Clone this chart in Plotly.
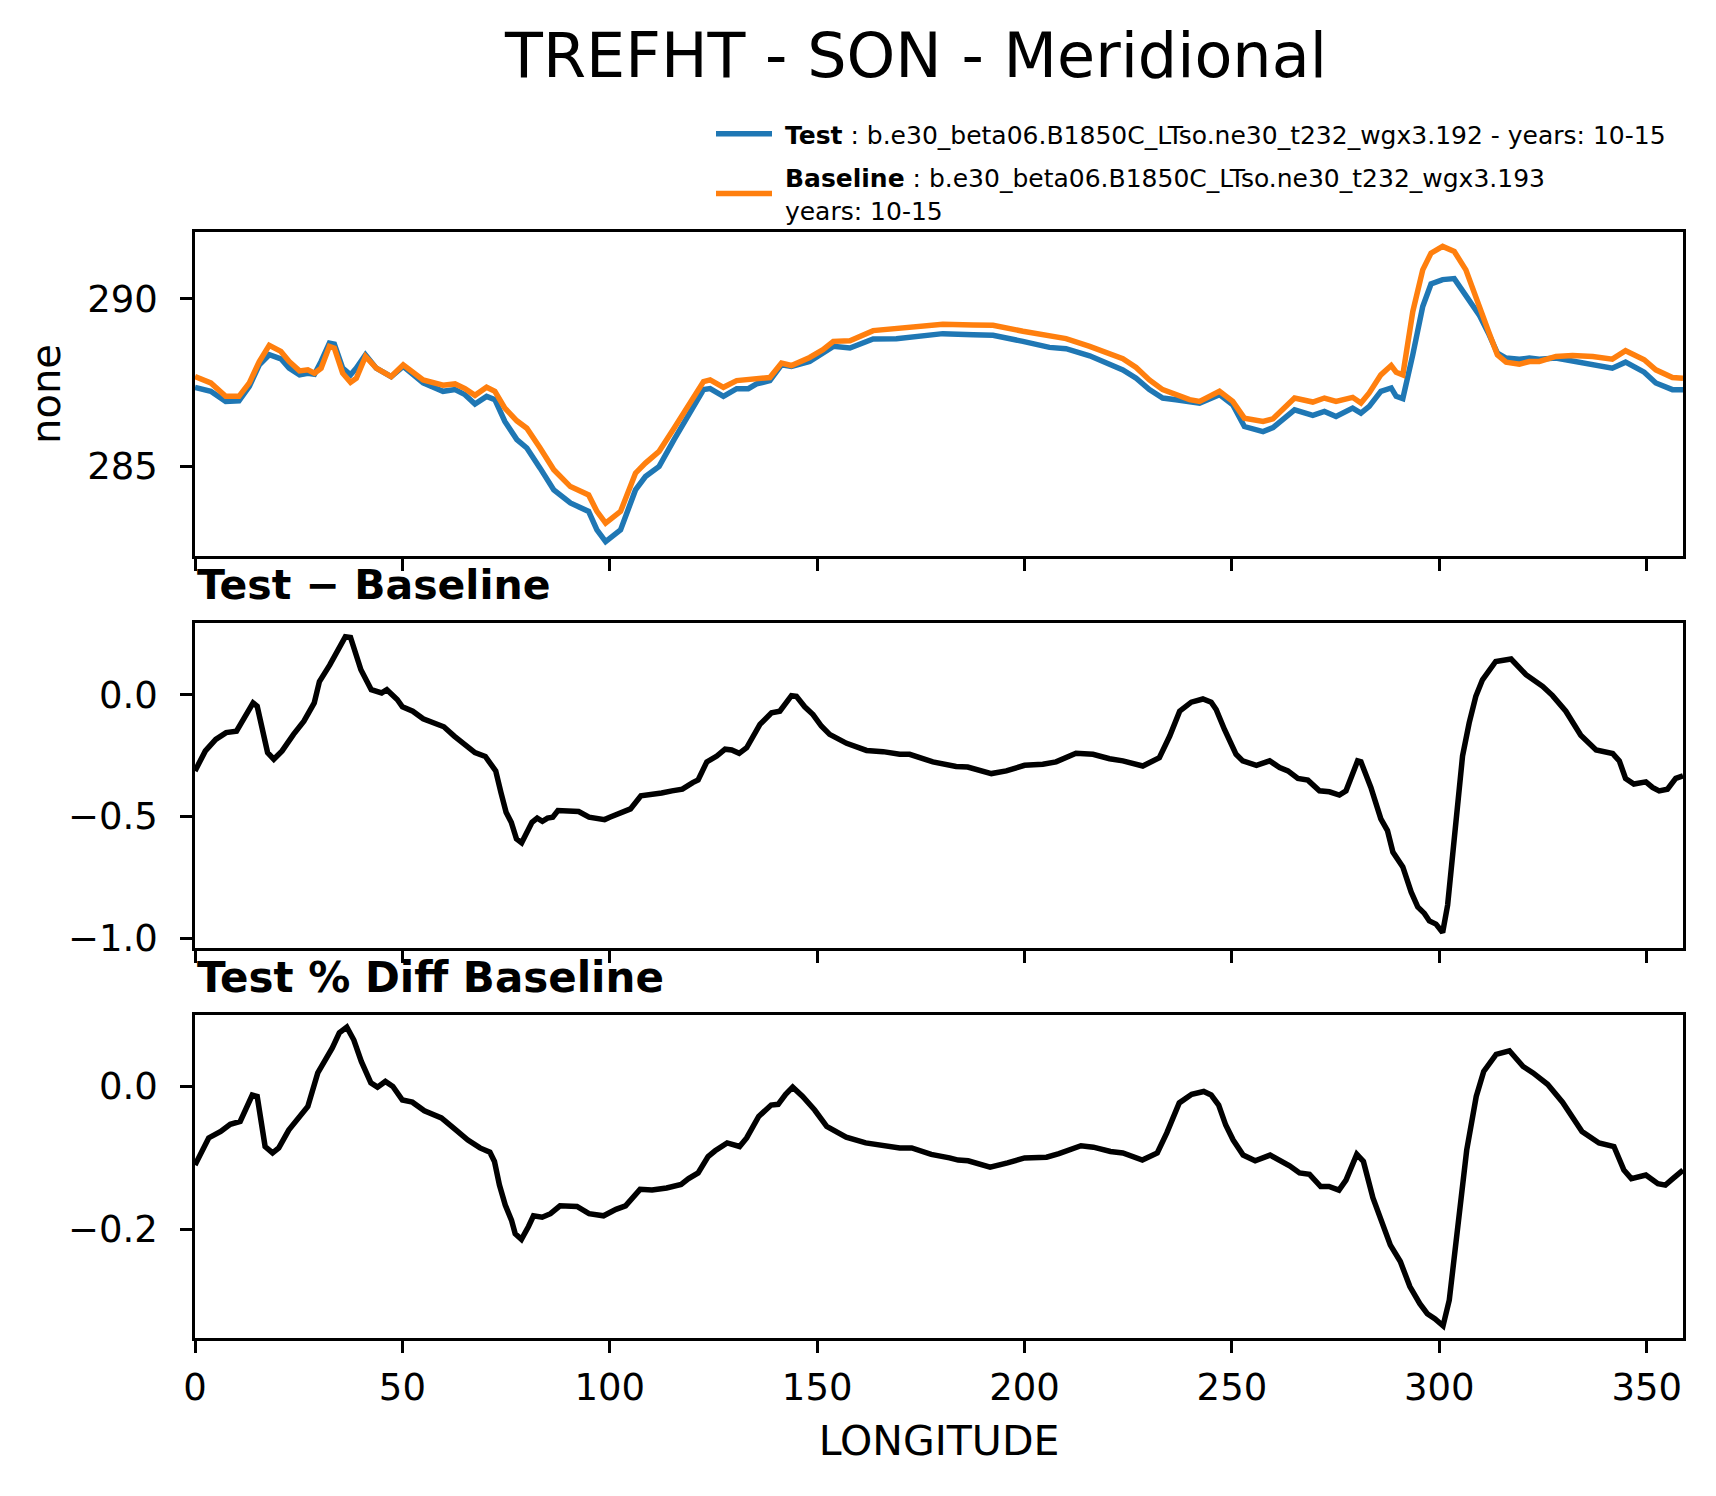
import plotly.graph_objects as go

# ---- data ----
lon_top = [0, 3.8, 7.4, 10.6, 13.1, 15.5, 17.9, 20.7, 22.7, 25.2, 27.2, 28.8, 30.4, 32.4, 33.6,
           35.6, 37.5, 38.9, 41.1, 43.7, 47.3, 50.2, 55.0, 59.8, 62.7, 65.1, 67.5, 70.3, 72.3,
           74.7, 77.6, 80.0, 83.2, 86.5, 90.5, 94.9, 96.9, 99.0, 102.6, 106.2, 108.6, 111.9,
           115.5, 119.5, 122.6, 124.2, 127.4, 130.6, 133.4, 135.4, 138.6, 141.4, 143.8, 148.2,
           151.4, 153.9, 157.9, 163.5, 169.1, 175.5, 180.3, 187.6, 192.4, 199.6, 206.0, 210.0,
           215.7, 223.7, 226.9, 230.1, 233.3, 236.5, 239.8, 242.2, 247.0, 250.2, 253.0, 257.5,
           259.9, 265.1, 269.5, 272.3, 275.1, 279.1, 281.1, 283.1, 285.9, 288.4, 289.6, 291.2,
           293.6, 296.0, 298.0, 300.8, 303.6, 306.4, 309.6, 312.0, 314.0, 316.1, 319.3, 321.7,
           324.1, 328.1, 332.1, 337.0, 341.7, 344.9, 349.4, 352.2, 356.2, 358.75]
test_vals = [287.36, 287.24, 286.94, 286.96, 287.39, 288.03, 288.33, 288.21, 287.93, 287.73,
             287.78, 287.75, 288.13, 288.68, 288.65, 287.93, 287.73, 287.93, 288.33, 287.93,
             287.68, 287.98, 287.49, 287.24, 287.29, 287.14, 286.86, 287.09, 286.99, 286.34,
             285.80, 285.55, 284.95, 284.30, 283.91, 283.66, 283.11, 282.76, 283.11, 284.30,
             284.70, 285.00, 285.80, 286.64, 287.29, 287.32, 287.09, 287.32, 287.32, 287.46,
             287.56, 288.03, 287.98, 288.13, 288.38, 288.58, 288.53, 288.80, 288.81, 288.90,
             288.96, 288.93, 288.91, 288.73, 288.55, 288.51, 288.30, 287.88, 287.63, 287.29,
             287.04, 286.99, 286.94, 286.89, 287.14, 286.84, 286.19, 286.04, 286.16, 286.69,
             286.52, 286.64, 286.49, 286.74, 286.59, 286.79, 287.24, 287.34, 287.09, 287.02,
             288.33, 289.77, 290.44, 290.57, 290.60, 290.12, 289.52, 288.93, 288.38, 288.23,
             288.20, 288.23, 288.20, 288.23, 288.15, 288.03, 287.93, 288.11, 287.81, 287.49,
             287.29, 287.29]
base_vals = [287.68, 287.49, 287.09, 287.09, 287.49, 288.13, 288.61, 288.43, 288.13, 287.85,
             287.88, 287.78, 287.93, 288.58, 288.53, 287.78, 287.51, 287.63, 288.28, 287.93,
             287.68, 288.03, 287.58, 287.42, 287.46, 287.32, 287.12, 287.36, 287.24, 286.74,
             286.36, 286.14, 285.55, 284.90, 284.40, 284.15, 283.66, 283.31, 283.66, 284.80,
             285.10, 285.45, 286.14, 286.94, 287.53, 287.58, 287.36, 287.56, 287.58, 287.63,
             287.65, 288.08, 288.01, 288.25, 288.48, 288.73, 288.75, 289.05, 289.10, 289.17,
             289.24, 289.22, 289.21, 289.03, 288.87, 288.81, 288.58, 288.21, 287.95, 287.58,
             287.29, 287.14, 286.99, 286.94, 287.24, 286.94, 286.44, 286.34, 286.42, 287.04,
             286.92, 287.04, 286.94, 287.06, 286.89, 287.19, 287.73, 288.01, 287.81, 287.73,
             289.62, 290.86, 291.36, 291.56, 291.41, 290.86, 289.72, 288.98, 288.33, 288.11,
             288.05, 288.13, 288.13, 288.28, 288.31, 288.28, 288.20, 288.45, 288.18, 287.88,
             287.65, 287.63]

lon_diff = [0, 2.5, 5, 7.5, 10, 12.5, 14, 15, 17.5, 19, 21, 23.75, 26.25, 28.75, 30, 32.5, 35,
            36.25, 37.5, 40, 42.5, 45, 46.25, 48.75, 50, 52.5, 55, 57.5, 60, 62.5, 65, 67.5, 70,
            72.5, 73.75, 75, 76.25, 77.5, 78.75, 80, 81.25, 82.5, 83.75, 85, 86.25, 87.5, 90,
            92.5, 95, 97.5, 98.75, 100, 102.5, 105, 107.5, 110, 112.5, 115, 117.5, 120, 121.3,
            123.4, 125.8, 127.8, 129.4, 131.2, 133.0, 136.2, 139.0, 141.0, 143.8, 145.0, 147.0,
            149.0, 151.0, 153.0, 157.1, 161.9, 165.9, 169.9, 172.3, 177.9, 183.5, 186.3, 192.0,
            195.6, 200, 204.4, 207.6, 212.4, 216.5, 220.5, 223.7, 228.5, 232.5, 235.0, 237.4,
            240.2, 243.0, 245.0, 246.2, 248.2, 251.0, 252.6, 255.9, 259.1, 261.5, 263.5, 265.9,
            268.3, 271.1, 273.5, 275.9, 277.5, 279.1, 280.3, 281.1, 283.5, 285.9, 287.5, 288.8,
            291.2, 293.2, 294.8, 296.4, 297.6, 299.2, 300.8, 302.0, 303.2, 304.4, 305.6, 307.2,
            308.8, 310.4, 313.6, 317.3, 320.9, 324.9, 327.3, 330.5, 334.1, 337.8, 341.8, 343.4,
            344.9, 346.9, 349.8, 351.4, 353.0, 355.0, 357.0, 358.75]
diff_vals = [-0.313, -0.231, -0.184, -0.156, -0.150, -0.075, -0.034, -0.048, -0.238, -0.265,
             -0.231, -0.163, -0.109, -0.034, 0.054, 0.122, 0.204, 0.238, 0.235, 0.102, 0.020,
             0.007, 0.020, -0.020, -0.050, -0.068, -0.099, -0.113, -0.132, -0.170, -0.204,
             -0.238, -0.254, -0.313, -0.401, -0.483, -0.524, -0.592, -0.608, -0.571, -0.524,
             -0.507, -0.520, -0.507, -0.503, -0.476, -0.476, -0.480, -0.503, -0.510, -0.513,
             -0.503, -0.486, -0.469, -0.415, -0.411, -0.404, -0.395, -0.388, -0.361, -0.350,
             -0.276, -0.252, -0.224, -0.227, -0.241, -0.218, -0.122, -0.075, -0.068, -0.004,
             -0.007, -0.050, -0.082, -0.129, -0.163, -0.200, -0.229, -0.234, -0.245, -0.245,
             -0.276, -0.295, -0.297, -0.324, -0.313, -0.290, -0.286, -0.276, -0.241, -0.245,
             -0.263, -0.272, -0.293, -0.259, -0.170, -0.068, -0.031, -0.018, -0.031, -0.061,
             -0.143, -0.245, -0.272, -0.290, -0.272, -0.299, -0.313, -0.344, -0.351, -0.395,
             -0.399, -0.412, -0.395, -0.320, -0.272, -0.276, -0.381, -0.510, -0.558, -0.646,
             -0.707, -0.810, -0.871, -0.898, -0.929, -0.942, -0.976, -0.864, -0.646, -0.415,
             -0.252, -0.116, -0.007, 0.061, 0.136, 0.146, 0.082, 0.034, -0.004, -0.068, -0.167,
             -0.227, -0.242, -0.272, -0.344, -0.367, -0.358, -0.381, -0.395, -0.388, -0.344,
             -0.333]

lon_pct = [0, 3.3, 6.2, 8.5, 10.9, 13.8, 15.0, 16.9, 18.7, 20.2, 22.6, 27.2, 29.6, 33.1, 34.8,
           36.6, 38.3, 40.1, 42.4, 44.0, 45.9, 47.7, 50.0, 52.4, 55.3, 59.4, 62.3, 65.8, 68.7,
           71.1, 72.2, 73.4, 74.8, 76.3, 77.2, 78.7, 80.4, 81.6, 83.7, 85.7, 88.0, 92.1, 95.0,
           98.5, 101.5, 103.8, 107.3, 110.2, 113.7, 117.2, 119.0, 121.3, 123.7, 125.4, 128.3,
           131.3, 133.0, 135.9, 138.9, 140.6, 142.4, 144.1, 146.5, 149.4, 152.3, 157.0, 161.7,
           165.8, 169.9, 172.8, 177.5, 181.9, 184.0, 186.4, 191.7, 195.9, 200.0, 205.3, 208.3,
           213.6, 216.6, 220.7, 223.7, 228.4, 232.0, 234.3, 237.3, 240.3, 243.2, 245.0, 246.8,
           248.5, 250.3, 252.7, 255.6, 259.2, 262.2, 263.9, 266.3, 268.7, 271.4, 273.4, 275.8,
           277.5, 280.1, 281.7, 284.0, 286.4, 288.2, 290.6, 292.9, 295.3, 297.1, 298.9, 300.9,
           302.4, 304.2, 306.6, 308.9, 310.7, 313.7, 316.9, 320.2, 322.6, 326.1, 329.7, 334.4,
           338.5, 342.1, 344.5, 346.3, 349.8, 352.7, 354.5, 356.3, 358.75]
pct_vals = [-0.110, -0.072, -0.063, -0.053, -0.049, -0.012, -0.014, -0.084, -0.093, -0.086,
            -0.061, -0.028, 0.019, 0.054, 0.075, 0.083, 0.065, 0.035, 0.005, -0.001, 0.007,
            0.000, -0.019, -0.022, -0.034, -0.044, -0.058, -0.075, -0.086, -0.092, -0.105,
            -0.138, -0.166, -0.187, -0.206, -0.214, -0.196, -0.181, -0.183, -0.178, -0.167,
            -0.168, -0.178, -0.181, -0.172, -0.167, -0.144, -0.145, -0.142, -0.137, -0.129,
            -0.121, -0.098, -0.090, -0.079, -0.084, -0.072, -0.042, -0.026, -0.025, -0.011,
            -0.001, -0.014, -0.033, -0.056, -0.071, -0.079, -0.082, -0.086, -0.086, -0.095,
            -0.100, -0.103, -0.104, -0.113, -0.107, -0.100, -0.099, -0.094, -0.083, -0.085,
            -0.091, -0.093, -0.103, -0.093, -0.065, -0.023, -0.011, -0.007, -0.012, -0.026,
            -0.054, -0.075, -0.096, -0.104, -0.096, -0.105, -0.111, -0.121, -0.123, -0.140,
            -0.140, -0.145, -0.131, -0.095, -0.105, -0.156, -0.192, -0.222, -0.245, -0.280,
            -0.304, -0.318, -0.325, -0.335, -0.299, -0.203, -0.089, -0.014, 0.021, 0.045,
            0.050, 0.028, 0.019, 0.003, -0.022, -0.063, -0.079, -0.084, -0.117, -0.129, -0.124,
            -0.136, -0.138, -0.129, -0.117]

lon_ticks = [0, 50, 100, 150, 200, 250, 300, 350]
top_ticks = [285, 290]
diff_ticks = [-1.0, -0.5, 0.0]
pct_ticks = [-0.2, 0.0]

test_name = "\u00a0<b>Test</b> : b.e30_beta06.B1850C_LTso.ne30_t232_wgx3.192 - years: 10-15"
base_name = ("\u00a0<b>Baseline</b> : b.e30_beta06.B1850C_LTso.ne30_t232_wgx3.193"
             "<br>\u00a0years: 10-15")

FONT = "DejaVu Sans"
# the page body keeps an 8px margin around the plot div
PAD = 8
W, H = 1716 - 2 * PAD, 1496 - 2 * PAD


def fx(p):
    # page pixel column -> paper x
    return (p - PAD) / W


def fy(p):
    # page pixel row (from top) -> paper y
    return 1 - (p - PAD) / H


x_dom = [fx(195), fx(1683)]

fig = go.Figure()

fig.add_trace(go.Scatter(x=lon_top, y=test_vals, mode="lines", name=test_name,
                         legendgroup="test", line=dict(color="#1f77b4", width=5.5),
                         xaxis="x", yaxis="y"))
fig.add_trace(go.Scatter(x=lon_top, y=base_vals, mode="lines", name=base_name,
                         legendgroup="base", line=dict(color="#ff7f0e", width=5.5),
                         xaxis="x", yaxis="y"))
fig.add_trace(go.Scatter(x=lon_diff, y=diff_vals, mode="lines", showlegend=False,
                         line=dict(color="black", width=5.5), xaxis="x2", yaxis="y2"))
fig.add_trace(go.Scatter(x=lon_pct, y=pct_vals, mode="lines", showlegend=False,
                         line=dict(color="black", width=5.5), xaxis="x3", yaxis="y3"))

ax = dict(showline=True, linecolor="black", linewidth=2.5, mirror=True,
          ticks="outside", ticklen=12, tickwidth=2.5, tickcolor="black",
          showgrid=False, zeroline=False, automargin=False,
          tickfont=dict(family=FONT, size=37, color="black"))

xax = dict(ax, range=[0, 358.75], tickvals=lon_ticks, domain=x_dom)

fig.update_layout(
    width=W, height=H,
    margin=dict(l=0, r=0, t=0, b=0),
    paper_bgcolor="white", plot_bgcolor="white",
    font=dict(family=FONT, color="black"),
    title=dict(text="TREFHT - SON - Meridional", x=fx(916), xanchor="center",
               y=fy(55), yanchor="middle", font=dict(family=FONT, size=62, color="black")),
    xaxis=dict(xax, anchor="y", showticklabels=False),
    xaxis2=dict(xax, anchor="y2", showticklabels=False),
    xaxis3=dict(xax, anchor="y3", ticklabelstandoff=3,
                title=dict(text="LONGITUDE", font=dict(family=FONT, size=41), standoff=19)),
    yaxis=dict(ax, anchor="x", domain=[fy(556), fy(232)], range=[282.33, 291.99],
               tickvals=top_ticks, ticklabelstandoff=15,
               title=dict(text="none", font=dict(family=FONT, size=40), standoff=15)),
    yaxis2=dict(ax, anchor="x2", domain=[fy(948), fy(623)], range=[-1.04, 0.294],
                tickvals=diff_ticks, tickformat=".1f", ticklabelstandoff=15),
    yaxis3=dict(ax, anchor="x3", domain=[fy(1338), fy(1015)], range=[-0.352, 0.1],
                tickvals=pct_ticks, tickformat=".1f", ticklabelstandoff=15),
    legend=dict(x=fx(711), xanchor="left", y=fy(111), yanchor="top",
                bgcolor="rgba(0,0,0,0)", font=dict(family=FONT, size=25, color="black"),
                itemwidth=56, tracegroupgap=8),
    showlegend=True,
)

fig.add_annotation(text="<b>Test − Baseline</b>", xref="paper", yref="paper",
                   x=x_dom[0], y=fy(585), xanchor="left", yanchor="middle", showarrow=False,
                   font=dict(family=FONT, size=41, color="black"))
fig.add_annotation(text="<b>Test % Diff Baseline</b>", xref="paper", yref="paper",
                   x=x_dom[0], y=fy(977), xanchor="left", yanchor="middle", showarrow=False,
                   font=dict(family=FONT, size=42, color="black"))

fig.write_html("out.html")
